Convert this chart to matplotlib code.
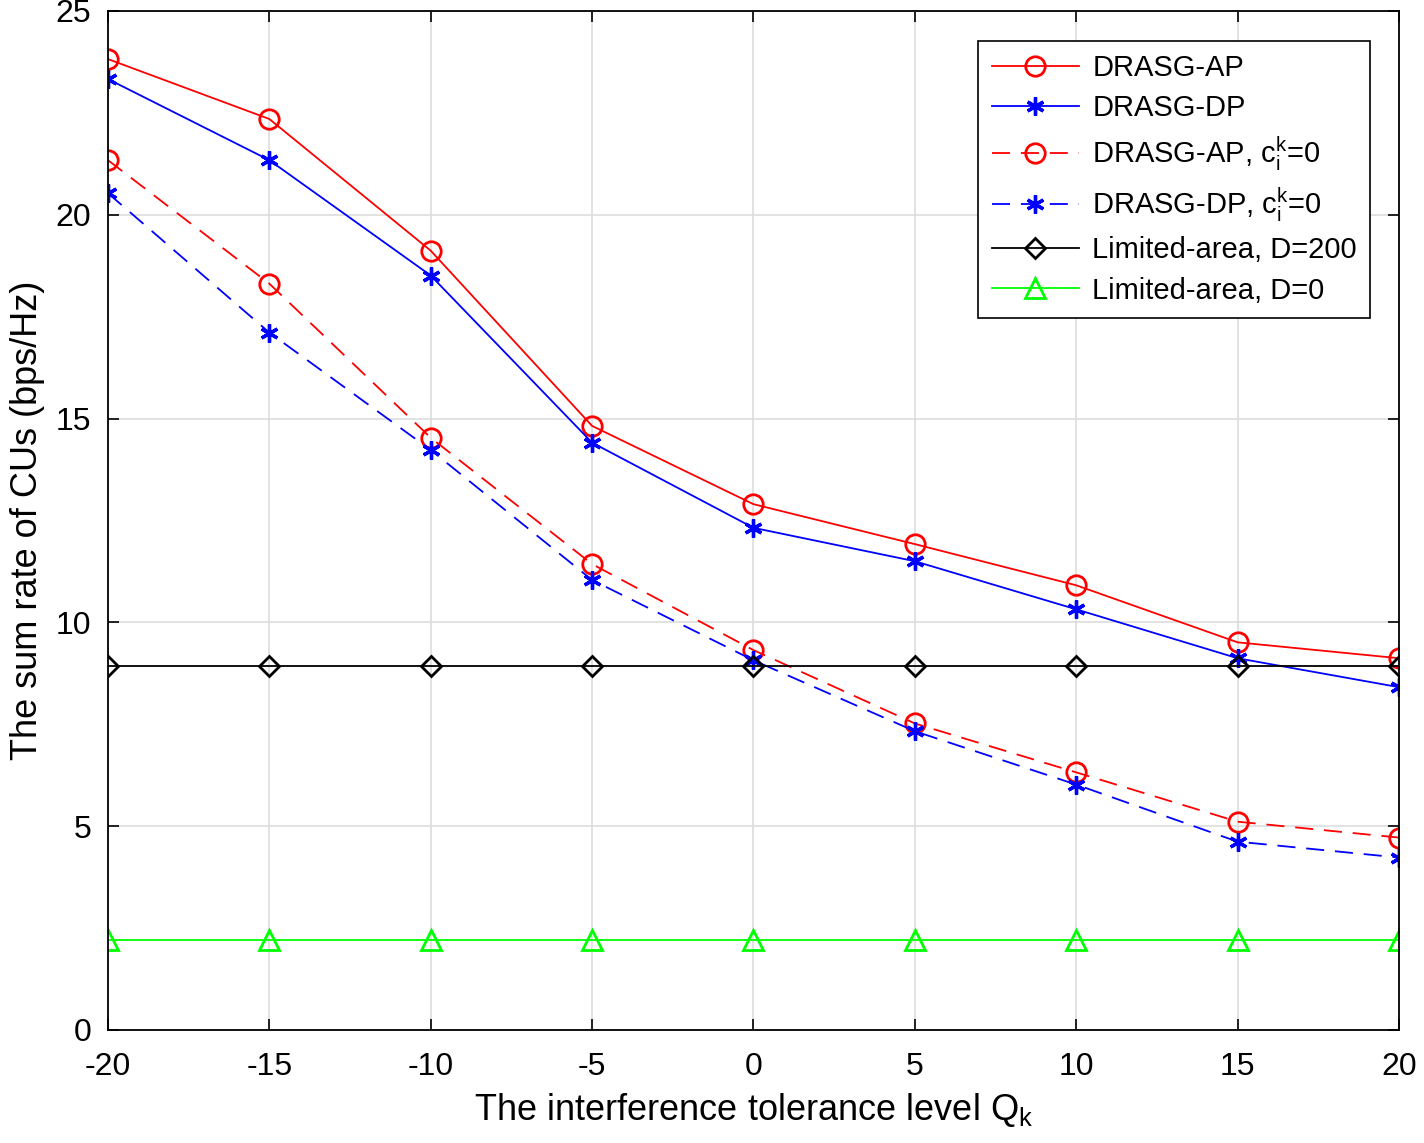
import matplotlib
matplotlib.use('Agg')
import matplotlib.pyplot as plt
import numpy as np

plt.rcParams['font.family'] = ['Liberation Sans', 'DejaVu Sans']
plt.rcParams['mathtext.fontset'] = 'custom'
plt.rcParams['mathtext.rm'] = 'Liberation Sans'
plt.rcParams['mathtext.it'] = 'Liberation Sans'

# data
q = [-20, -15, -10, -5, 0, 5, 10, 15, 20]
ap = [23.82, 22.35, 19.12, 14.82, 12.9, 11.92, 10.91, 9.51, 9.12]
dp = [23.33, 21.34, 18.51, 14.41, 12.32, 11.5, 10.32, 9.12, 8.41]
ap_c0 = [21.34, 18.31, 14.53, 11.43, 9.32, 7.52, 6.32, 5.11, 4.72]
dp_c0 = [20.53, 17.11, 14.23, 11.04, 9.07, 7.33, 6.02, 4.62, 4.23]
lim200 = [8.92] * 9
lim0 = [2.21] * 9

fig = plt.figure(figsize=(14.24, 11.43), dpi=100)
ax = fig.add_axes([0.0758, 0.0989, 0.9066, 0.8915])

star = (6, 2, 0)
ax.plot(q, ap, '-', color='#ff0000', lw=1.3, marker='o', ms=14, mfc='none', mew=2,
        label='DRASG-AP')
ax.plot(q, dp, '-', color='#0000ff', lw=1.3, marker=star, ms=13, mew=2.4,
        label='DRASG-DP')
ax.plot(q, ap_c0, color='#ff0000', lw=1.3, dashes=(10, 6), marker='o', ms=14,
        mfc='none', mew=2, label=r'DRASG-AP, $\mathregular{c_i^k}$=0')
ax.plot(q, dp_c0, color='#0000ff', lw=1.3, dashes=(10, 6), marker=star, ms=13,
        mew=2.4, label=r'DRASG-DP, $\mathregular{c_i^k}$=0')
ax.plot(q, lim200, '-', color='black', lw=1.3, marker='D', ms=10, mfc='none', mew=2,
        label='Limited-area, D=200')
ax.plot(q, lim0, '-', color='#00ff00', lw=1.3, marker='^', ms=14, mfc='none', mew=2,
        label='Limited-area, D=0')

ax.set_xlim(-20, 20)
ax.set_ylim(0, 25)
ax.set_xticks(q)
ax.set_xticklabels([str(v) for v in q])
ax.set_yticks([0, 5, 10, 15, 20, 25])
ax.tick_params(axis='x', pad=16)
ax.tick_params(axis='y', pad=12)
ax.tick_params(direction='in', length=8, width=1.2, labelsize=23,
               top=True, right=True)
ax.grid(True, color='#dddddd', lw=1.2)
ax.set_axisbelow(True)
for s in ax.spines.values():
    s.set_linewidth(1.3)

ax.set_xlabel(r'The interference tolerance level $\mathregular{Q_k}$', fontsize=26, labelpad=6)
ax.set_ylabel('The sum rate of CUs (bps/Hz)', fontsize=26, labelpad=8)

leg = ax.legend(loc='upper right', bbox_to_anchor=(0.9775, 0.9706), borderaxespad=0,
                fontsize=21, fancybox=False, edgecolor='black', framealpha=1,
                handlelength=3.0, labelspacing=0.42, borderpad=0.45, handletextpad=0.45)
leg.get_frame().set_linewidth(1.2)

fig.savefig('out.png', dpi=100)
